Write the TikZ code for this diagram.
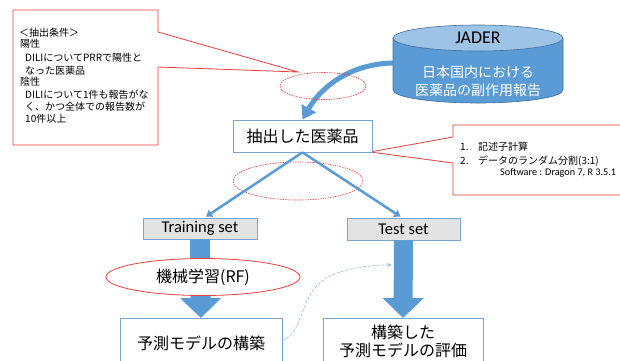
\documentclass[tikz,border=0pt]{standalone}
\usepackage{fontspec}
\setmainfont{Carlito}
\newfontfamily\jp{Noto Sans CJK JP}
\usetikzlibrary{arrows.meta,shapes.geometric,calc}
\definecolor{myblue}{HTML}{5B9BD5}
\definecolor{lightblue}{HTML}{9DC3E6}
\definecolor{boxblue}{HTML}{7AA3CF}
\definecolor{cylborder}{HTML}{41719C}
\definecolor{myred}{HTML}{EE3B3B}
\definecolor{graybox}{HTML}{E3E3E3}
\begin{document}
\begin{tikzpicture}[x=1pt,y=-1pt,
  callout/.style={draw=myred, line width=0.8pt, fill=white},
  dashell/.style={ellipse, draw=myred, dash pattern=on 1.5pt off 1pt, line width=0.6pt, inner sep=0pt},
  wbox/.style={draw=boxblue, line width=0.8pt, fill=white, inner sep=0pt, align=center,
    font=\jp\fontsize{16}{18}\selectfont},
  gbox/.style={draw=boxblue, line width=0.8pt, fill=graybox, inner sep=0pt,
    font=\fontsize{16.5}{18}\selectfont},
  ltxt/.style={anchor=west, inner sep=0pt, font=\jp\fontsize{10}{12}\selectfont},
  rtxt/.style={anchor=west, inner sep=0pt, font=\jp\fontsize{10}{12}\selectfont},
  thinarrow/.style={myblue, line width=2.5pt, -{Triangle[width=8pt,length=6pt]}},
  blockarrow/.style={myblue, line width=20pt, -{Triangle[width=40pt,length=20pt]}}
]
\useasboundingbox (0,0) rectangle (620,360);
\clip (0,0) rectangle (620,360);

% left callout
\draw[callout] (13,10) -- (158,10) -- (158,32) -- (298,72) -- (158,67) -- (158,145) -- (13,145) -- cycle;
\node[ltxt] (l1) at (19,33) {＜抽出条件＞};
\node[ltxt] (l2) at (20,43.5) {陽性};
\node[ltxt] (l3) at (25,58) {DILIについてPRRで陽性と};
\node[ltxt] (l4) at (25,71) {なった医薬品};
\node[ltxt] (l5) at (20,81.5) {陰性};
\node[ltxt] (l6) at (25,95) {DILIについて1件も報告がな};
\node[ltxt] (l7) at (25,107) {く、かつ全体での報告数が};
\node[ltxt] (l8) at (25,118.5) {10件以上};

% right callout
\draw[callout] (453,125) -- (625,125) -- (625,195) -- (453,195) -- (453,163) -- (370,152) -- (453,137) -- cycle;
\node[rtxt] (r1n) at (460,147) {1.};
\node[rtxt] (r1) at (478,147) {記述子計算};
\node[rtxt] (r2n) at (460,161) {2.};
\node[rtxt] (r2) at (478,161) {データのランダム分割(3:1)};
\node[anchor=west, inner sep=0pt, font=\fontsize{10.2}{12}\selectfont] (r3) at (500,173) {Software : Dragon 7, R 3.5.1};

% cylinder
\filldraw[fill=myblue, draw=cylborder, line width=0.6pt] (393,38) -- (393,90) arc[start angle=180, end angle=0, x radius=85, y radius=13] -- (563,38) -- cycle;
\filldraw[fill=lightblue, draw=cylborder, line width=0.6pt] (478,38) ellipse[x radius=85, y radius=13];
\node[inner sep=0pt, font=\fontsize{18}{20}\selectfont] (jader) at (478,38) {JADER};
\node[inner sep=0pt, align=center, text=white, font=\jp\fontsize{14}{18}\selectfont] (jadertxt) at (478,81) {日本国内における\\医薬品の副作用報告};
\coordinate (cylL) at (393,63);

% main box
\node[wbox, minimum width=139pt, minimum height=32pt] (extract) at (302.5,136) {抽出した医薬品};

% curved arrow
\draw[myblue, line width=5pt, -{Triangle[width=16pt,length=13pt]}] (cylL) .. controls (345,64) and (318,92) .. (extract.north);

% dashed ellipses
\node[dashell, minimum width=86pt, minimum height=27pt] (e1) at (323,86) {};
\node[dashell, minimum width=130pt, minimum height=38pt] (e2) at (298,181) {};

% training / test
\node[gbox, minimum width=114pt, minimum height=21pt] (train) at (200,228.5) {Training set};
\node[gbox, minimum width=113pt, minimum height=22pt] (test) at (403.5,229) {Test set};
\draw[thinarrow] (extract.south) -- ($(train.north)+(6,-1)$);
\draw[thinarrow] (extract.south) -- ($(test.north)+(-3,-1)$);

% bottom boxes
\node[wbox, minimum width=162pt, minimum height=50pt, anchor=north] (model) at (201,318) {予測モデルの構築};
\node[wbox, minimum width=160pt, minimum height=46pt, anchor=north] (eval) at (403,318) {構築した\\予測モデルの評価};

% block arrows
\draw[blockarrow] (train.south) -- (model.north);
\draw[blockarrow, line width=19pt] (test.south) -- (eval.north);

% ML ellipse
\node[ellipse, draw=myred, fill=white, line width=0.8pt, minimum width=194pt, minimum height=37pt, inner sep=0pt,
  font=\jp\fontsize{16}{18}\selectfont] (ml) at (203,277) {機械学習(RF)};

% dashed thin curve
\coordinate (dashend) at (392,265);
\draw[lightblue, line width=0.7pt, dash pattern=on 3pt off 1.5pt, -{Stealth[length=5pt,width=4pt]}]
  ($(model.east)+(0,-3)$) .. controls (305,333) and (298,292) .. (330,276) .. controls (350,267) and (372,265) .. (dashend);
\end{tikzpicture}
\end{document}
